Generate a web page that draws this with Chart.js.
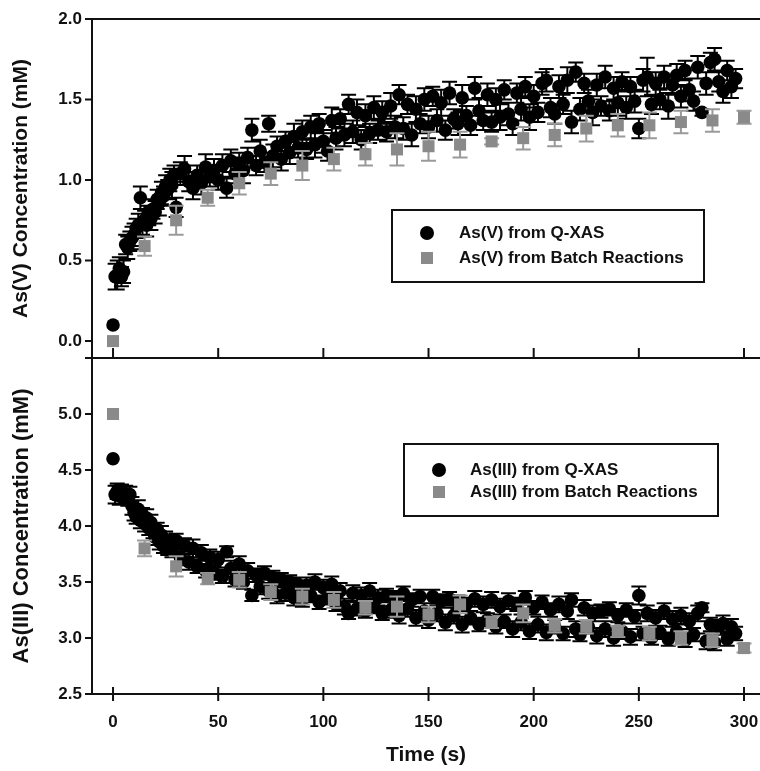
<!DOCTYPE html>
<html><head><meta charset="utf-8">
<script src="https://cdn.jsdelivr.net/npm/chart.js@4.4.0/dist/chart.umd.min.js"></script>
<style>
html,body{margin:0;padding:0;background:#fff;width:760px;height:771px;overflow:hidden}
canvas{position:absolute;left:0;top:0}
</style></head>
<body>
<canvas id="c1" width="760" height="771"></canvas>
<canvas id="c2" width="760" height="771"></canvas>
<script>
// ---------- data ----------
const xTicks = [0, 50, 100, 150, 200, 250, 300];
const yTicksV = [0.0, 0.5, 1.0, 1.5, 2.0];
const yTicksIII = [2.5, 3.0, 3.5, 4.0, 4.5, 5.0];

const qTime = [
  0, 1, 2, 3, 4, 5, 6, 7, 8, 9,
  10, 11, 12, 13, 14, 15, 16, 17, 18, 19,
  20, 21, 22, 23, 24, 25, 26, 27, 28, 29,
  30, 32, 34, 36, 38, 40, 42, 44, 46, 48,
  50, 52, 54, 56, 58, 60, 62, 64, 66, 68,
  70, 72, 74, 76, 78, 80, 82, 84, 86, 88,
  90, 92, 94, 96, 98, 100, 102, 104, 106, 108,
  110, 112, 114, 116, 118, 120, 122, 124, 126, 128,
  130, 132, 134, 136, 138, 140, 142, 144, 146, 148,
  150, 152, 154, 156, 158, 160, 162, 164, 166, 168,
  170, 172, 174, 176, 178, 180, 182, 184, 186, 188,
  190, 192, 194, 196, 198, 200, 202, 204, 206, 208,
  210, 212, 214, 216, 218, 220, 222, 224, 226, 228,
  230, 232, 234, 236, 238, 240, 242, 244, 246, 248,
  250, 252, 254, 256, 258, 260, 262, 264, 266, 268,
  270, 272, 274, 276, 278, 280, 282, 284, 286, 288,
  290, 292, 294, 296
];
const qAsV = [
  0.10, 0.40, 0.41, 0.45, 0.40, 0.43, 0.60, 0.58, 0.62, 0.64,
  0.66, 0.70, 0.72, 0.89, 0.74, 0.75, 0.72, 0.78, 0.76, 0.82,
  0.80, 0.88, 0.86, 0.92, 0.90, 0.96, 0.94, 1.00, 0.97, 1.03,
  0.83, 1.04, 1.07, 0.99, 0.95, 1.03, 0.98, 1.08, 1.02, 1.06,
  1.00, 1.09, 0.95, 1.12, 1.04, 1.10, 1.06, 1.14, 1.31, 1.09,
  1.18, 1.11, 1.35, 1.15, 1.21, 1.13, 1.24, 1.17, 1.27, 1.20,
  1.30, 1.19, 1.33, 1.22, 1.35, 1.24, 1.18, 1.37, 1.26, 1.38,
  1.28, 1.47, 1.30, 1.42, 1.25, 1.40, 1.29, 1.45, 1.31, 1.42,
  1.30, 1.46, 1.33, 1.53, 1.32, 1.47, 1.28, 1.44, 1.35, 1.50,
  1.33, 1.52, 1.37, 1.48, 1.31, 1.54, 1.38, 1.35, 1.51, 1.40,
  1.34, 1.57, 1.43, 1.37, 1.53, 1.36, 1.50, 1.39, 1.56, 1.41,
  1.35, 1.54, 1.44, 1.58, 1.39, 1.52, 1.42, 1.60, 1.62, 1.45,
  1.41, 1.58, 1.47, 1.62, 1.36, 1.67, 1.44, 1.60, 1.49, 1.42,
  1.59, 1.46, 1.64, 1.43, 1.57, 1.48, 1.61, 1.45, 1.58, 1.49,
  1.32, 1.62, 1.64, 1.47, 1.60, 1.50, 1.64, 1.46, 1.59, 1.65,
  1.52, 1.68, 1.56, 1.49, 1.70, 1.42, 1.60, 1.73, 1.75, 1.61,
  1.55, 1.68, 1.58, 1.63
];
const qAsVErr = [
  0, 0.08, 0.09, 0.07, 0.06, 0.07, 0.06, 0.07, 0.06, 0.07,
  0.07, 0.06, 0.07, 0.07, 0.08, 0.06, 0.07, 0.06, 0.07, 0.06,
  0.07, 0.06, 0.08, 0.07, 0.06, 0.07, 0.06, 0.07, 0.08, 0.06,
  0.06, 0.07, 0.08, 0.06, 0.07, 0.06, 0.07, 0.08, 0.06, 0.07,
  0.06, 0.07, 0.06, 0.07, 0.06, 0.07, 0.08, 0.06, 0.07, 0.06,
  0.07, 0.06, 0.05, 0.07, 0.06, 0.07, 0.06, 0.07, 0.08, 0.06,
  0.07, 0.06, 0.07, 0.08, 0.06, 0.07, 0.06, 0.08, 0.07, 0.06,
  0.07, 0.06, 0.07, 0.08, 0.06, 0.07, 0.06, 0.07, 0.06, 0.07,
  0.06, 0.08, 0.07, 0.06, 0.07, 0.06, 0.07, 0.08, 0.06, 0.07,
  0.07, 0.06, 0.07, 0.08, 0.06, 0.07, 0.06, 0.07, 0.08, 0.06,
  0.06, 0.07, 0.08, 0.06, 0.07, 0.06, 0.07, 0.08, 0.06, 0.07,
  0.07, 0.06, 0.07, 0.06, 0.08, 0.07, 0.06, 0.07, 0.07, 0.06,
  0.06, 0.07, 0.06, 0.08, 0.07, 0.06, 0.07, 0.06, 0.07, 0.08,
  0.07, 0.06, 0.07, 0.06, 0.07, 0.08, 0.06, 0.07, 0.06, 0.07,
  0.06, 0.07, 0.12, 0.06, 0.07, 0.06, 0.07, 0.08, 0.06, 0.07,
  0.07, 0.06, 0.07, 0.06, 0.07, 0.02, 0.07, 0.06, 0.07, 0.06,
  0.07, 0.06, 0.07, 0.06
];
const qAsIII = [
  4.60, 4.28, 4.31, 4.27, 4.30, 4.26, 4.29, 4.24, 4.28, 4.18,
  4.12, 4.08, 4.15, 4.05, 4.10, 4.02, 4.07, 3.98, 4.03, 3.95,
  3.90, 3.97, 3.86, 3.92, 3.82, 3.88, 3.80, 3.85, 3.78, 3.83,
  3.87, 3.72, 3.83, 3.68, 3.80, 3.64, 3.76, 3.60, 3.72, 3.58,
  3.70, 3.55, 3.77, 3.62, 3.52, 3.66, 3.50, 3.60, 3.38, 3.56,
  3.46, 3.58, 3.42, 3.54, 3.38, 3.52, 3.40, 3.50, 3.36, 3.48,
  3.34, 3.47, 3.38, 3.50, 3.32, 3.45, 3.36, 3.48, 3.30, 3.42,
  3.28, 3.22, 3.40, 3.26, 3.38, 3.24, 3.42, 3.28, 3.36, 3.22,
  3.38, 3.25, 3.36, 3.20, 3.40, 3.26, 3.34, 3.18, 3.37, 3.24,
  3.16, 3.37, 3.22, 3.33, 3.14, 3.35, 3.20, 3.32, 3.12, 3.30,
  3.18, 3.35, 3.12, 3.30, 3.16, 3.34, 3.10, 3.28, 3.15, 3.33,
  3.08, 3.30, 3.14, 3.36, 3.06, 3.27, 3.12, 3.32, 3.05, 3.25,
  3.10, 3.30, 3.04, 3.24, 3.34, 3.08, 3.03, 3.27, 3.10, 3.22,
  3.02, 3.24, 3.08, 3.26, 3.00, 3.20, 3.06, 3.25, 3.01, 3.19,
  3.38, 3.04, 3.22, 3.00, 3.18, 3.05, 3.24, 2.99, 3.17, 3.06,
  3.20, 2.98, 3.15, 3.03, 3.22, 3.27, 2.97, 3.12, 2.96, 3.10,
  3.13, 2.99, 3.10, 3.04
];
const qAsIIIErr = [
  0, 0.08, 0.07, 0.08, 0.07, 0.06, 0.07, 0.06, 0.07, 0.08,
  0.07, 0.06, 0.08, 0.07, 0.06, 0.07, 0.08, 0.06, 0.07, 0.06,
  0.07, 0.06, 0.07, 0.08, 0.06, 0.07, 0.06, 0.07, 0.06, 0.07,
  0.06, 0.07, 0.06, 0.07, 0.08, 0.06, 0.07, 0.06, 0.07, 0.06,
  0.07, 0.06, 0.05, 0.07, 0.06, 0.07, 0.06, 0.07, 0.05, 0.06,
  0.07, 0.06, 0.07, 0.06, 0.07, 0.06, 0.07, 0.06, 0.07, 0.06,
  0.06, 0.07, 0.06, 0.07, 0.06, 0.07, 0.06, 0.07, 0.06, 0.07,
  0.07, 0.05, 0.07, 0.06, 0.07, 0.06, 0.07, 0.06, 0.07, 0.06,
  0.06, 0.07, 0.06, 0.07, 0.06, 0.07, 0.06, 0.07, 0.06, 0.07,
  0.07, 0.06, 0.07, 0.06, 0.07, 0.06, 0.07, 0.06, 0.07, 0.06,
  0.06, 0.07, 0.06, 0.07, 0.06, 0.07, 0.06, 0.07, 0.06, 0.07,
  0.07, 0.06, 0.07, 0.06, 0.07, 0.06, 0.07, 0.06, 0.07, 0.06,
  0.06, 0.07, 0.06, 0.07, 0.06, 0.07, 0.06, 0.07, 0.06, 0.07,
  0.07, 0.06, 0.07, 0.06, 0.07, 0.06, 0.07, 0.06, 0.07, 0.06,
  0.08, 0.06, 0.07, 0.06, 0.07, 0.06, 0.07, 0.06, 0.07, 0.06,
  0.07, 0.06, 0.07, 0.06, 0.07, 0.04, 0.07, 0.06, 0.07, 0.06,
  0.07, 0.06, 0.07, 0.06
];

const bTime = [0, 15, 30, 45, 60, 75, 90, 105, 120, 135, 150, 165, 180, 195, 210, 225, 240, 255, 270, 285, 300];
const bAsV = [0.00, 0.59, 0.75, 0.89, 0.98, 1.04, 1.09, 1.13, 1.16, 1.19, 1.21, 1.22, 1.24, 1.26, 1.28, 1.32, 1.34, 1.34, 1.36, 1.37, 1.39];
const bAsVErr = [0, 0.06, 0.09, 0.05, 0.07, 0.07, 0.09, 0.07, 0.07, 0.10, 0.09, 0.08, 0.02, 0.07, 0.07, 0.08, 0.07, 0.08, 0.07, 0.07, 0.04];
const bAsIII = [5.00, 3.80, 3.64, 3.53, 3.52, 3.41, 3.37, 3.34, 3.27, 3.28, 3.21, 3.30, 3.14, 3.22, 3.11, 3.10, 3.06, 3.04, 3.00, 2.98, 2.91];
const bAsIIIErr = [0, 0.07, 0.09, 0.05, 0.07, 0.07, 0.07, 0.07, 0.06, 0.09, 0.07, 0.08, 0.05, 0.08, 0.06, 0.06, 0.05, 0.06, 0.06, 0.06, 0.04];

const labelsV = ['As(V) from Q-XAS', 'As(V) from Batch Reactions'];
const labelsIII = ['As(III) from Q-XAS', 'As(III) from Batch Reactions'];

// ---------- styling ----------
const FONT = '"Liberation Sans", Arial, Helvetica, sans-serif';
const INK = '#111111';
const GRAY = '#8a8a8a';
const GRAY_ERR = '#9a9a9a';

function pts(xs, ys) { return xs.map((x, i) => ({x: x, y: ys[i]})); }

const errPlugin = {
  id: 'errbars',
  beforeDatasetDraw(chart, args) {
    const ds = chart.data.datasets[args.index];
    if (!ds.errors) return;
    const ys = chart.scales.y, ctx = chart.ctx, meta = args.meta;
    ctx.save();
    ctx.strokeStyle = ds.errColor; ctx.lineWidth = 2;
    ctx.beginPath();
    ds.data.forEach((p, i) => {
      const e = ds.errors[i];
      if (!e) return;
      const x = meta.data[i].x;
      const yTop = ys.getPixelForValue(p.y + e), yBot = ys.getPixelForValue(p.y - e);
      ctx.moveTo(x, yBot); ctx.lineTo(x, yTop);
      ctx.moveTo(x - 7.5, yTop); ctx.lineTo(x + 7.5, yTop);
      ctx.moveTo(x - 7.5, yBot); ctx.lineTo(x + 7.5, yBot);
    });
    ctx.stroke();
    ctx.restore();
  }
};

function framePlugin(kind) {
  return {
    id: 'frame',
    afterDraw(chart) {
      const ctx = chart.ctx, a = chart.chartArea, xs = chart.scales.x, ys = chart.scales.y;
      ctx.save();
      ctx.strokeStyle = INK; ctx.lineWidth = 2;
      ctx.beginPath();
      ctx.moveTo(a.left, a.top); ctx.lineTo(a.left, a.bottom);
      ctx.moveTo(a.left - 7, a.bottom); ctx.lineTo(a.right, a.bottom);
      if (kind === 'top') { ctx.moveTo(a.left - 7, a.top); ctx.lineTo(a.right, a.top); }
      ys.ticks.forEach(t => { const y = ys.getPixelForValue(t.value); ctx.moveTo(a.left - 7, y); ctx.lineTo(a.left, y); });
      xs.ticks.forEach(t => {
        const x = xs.getPixelForValue(t.value);
        if (kind === 'top') { ctx.moveTo(x, a.bottom); ctx.lineTo(x, a.bottom - 10); }
        else { ctx.moveTo(x, a.bottom - 7); ctx.lineTo(x, a.bottom + 7); }
      });
      ctx.stroke();
      ctx.restore();
    }
  };
}

function legendPlugin(box, labels, rows, mx, tx) {
  return {
    id: 'boxlegend',
    afterDraw(chart) {
      const ctx = chart.ctx;
      ctx.save();
      ctx.fillStyle = '#fff';
      ctx.fillRect(box[0], box[1], box[2], box[3]);
      ctx.strokeStyle = INK; ctx.lineWidth = 2;
      ctx.strokeRect(box[0], box[1], box[2], box[3]);
      ctx.fillStyle = '#000';
      ctx.beginPath(); ctx.arc(mx, rows[0], 7, 0, Math.PI * 2); ctx.fill();
      ctx.fillStyle = GRAY;
      ctx.fillRect(mx - 6, rows[1] - 6, 12, 12);
      ctx.fillStyle = INK;
      ctx.font = 'bold 17px ' + FONT;
      ctx.textBaseline = 'middle'; ctx.textAlign = 'left';
      ctx.fillText(labels[0], tx, rows[0]);
      ctx.fillText(labels[1], tx, rows[1]);
      ctx.restore();
    }
  };
}

function makeChart(id, cfg) {
  const tickFont = {family: FONT, size: 17, weight: 'bold'};
  return new Chart(document.getElementById(id), {
    type: 'scatter',
    data: {
      datasets: [
        {label: cfg.labels[1], data: pts(bTime, cfg.bVals), errors: cfg.bErr, errColor: GRAY_ERR,
         pointStyle: 'rect', pointRadius: 8.5, pointHoverRadius: 8.5, backgroundColor: GRAY, borderColor: GRAY, borderWidth: 0},
        {label: cfg.labels[0], data: pts(qTime, cfg.qVals), errors: cfg.qErr, errColor: '#000',
         pointStyle: 'circle', pointRadius: 6.8, pointHoverRadius: 6.8, backgroundColor: '#000', borderColor: '#000', borderWidth: 0}
      ]
    },
    options: {
      responsive: false, animation: false, events: [],
      layout: {autoPadding: false, padding: {top: cfg.padTop, left: 0, right: 0, bottom: 0}},
      plugins: {legend: {display: false}, tooltip: {enabled: false}},
      scales: {
        x: {
          type: 'linear', min: -10, max: 307.6,
          afterBuildTicks: s => { s.ticks = xTicks.map(v => ({value: v})); },
          afterFit: s => { s.height = cfg.xHeight; s.paddingLeft = 0; s.paddingRight = 0; },
          grid: {display: false, drawTicks: false}, border: {display: false},
          ticks: {display: cfg.showX, color: INK, font: tickFont, padding: 18, maxRotation: 0},
          title: {display: cfg.showX, text: 'Time (s)', color: INK, font: {family: FONT, size: 21, weight: 'bold'}, padding: {top: 0, bottom: 3}}
        },
        y: {
          type: 'linear', min: cfg.yMin, max: cfg.yMax,
          afterBuildTicks: s => { s.ticks = cfg.yTicks.map(v => ({value: v})); },
          afterFit: s => { s.width = 92; s.paddingTop = 0; s.paddingBottom = 0; },
          grid: {display: false, drawTicks: false}, border: {display: false},
          ticks: {color: INK, font: tickFont, padding: 10, callback: v => Number(v).toFixed(1)},
          title: {display: true, text: cfg.yTitle, color: INK, font: {family: FONT, size: cfg.yTitleSize, weight: 'bold'}, padding: {top: 9, bottom: 0}}
        }
      }
    },
    plugins: [errPlugin, framePlugin(cfg.kind), legendPlugin(cfg.box, cfg.labels, cfg.rows, cfg.mx, cfg.tx)]
  });
}

makeChart('c1', {
  kind: 'top', labels: labelsV, qVals: qAsV, qErr: qAsVErr, bVals: bAsV, bErr: bAsVErr,
  padTop: 19, xHeight: 771 - 358, showX: false, yMin: -0.105, yMax: 2.0, yTicks: yTicksV,
  yTitle: 'As(V) Concentration (mM)', yTitleSize: 21,
  box: [392, 210, 312, 72], rows: [233, 258], mx: 427, tx: 459
});
makeChart('c2', {
  kind: 'bottom', labels: labelsIII, qVals: qAsIII, qErr: qAsIIIErr, bVals: bAsIII, bErr: bAsIIIErr,
  padTop: 358, xHeight: 771 - 694, showX: true, yMin: 2.5, yMax: 5.5, yTicks: yTicksIII,
  yTitle: 'As(III) Concentration (mM)', yTitleSize: 22,
  box: [404, 444, 314, 72], rows: [470, 492], mx: 439, tx: 470
});
</script>
</body></html>
